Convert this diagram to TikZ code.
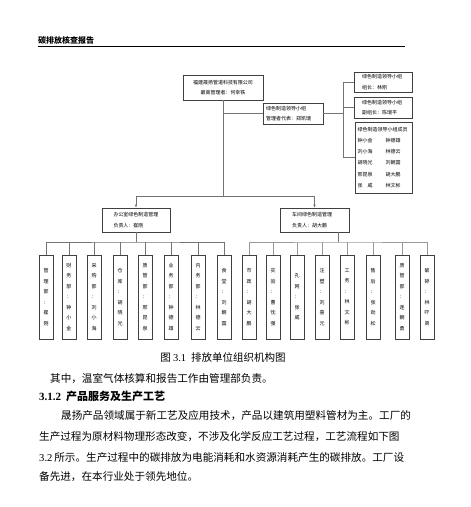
\documentclass[tikz,border=0pt]{standalone}
\usepackage{fontspec}
\setmainfont{Noto Sans CJK SC}
\newfontfamily\lat{Liberation Serif}
\XeTeXlinebreaklocale "zh"
\XeTeXlinebreakskip=0pt plus 1pt
\usetikzlibrary{arrows.meta}
\newcommand\namepair[2]{\makebox[28pt][l]{#1}#2}
\tikzset{
  hbox/.style={draw=black!75, line width=0.7pt, inner sep=2pt, font=\fontsize{5}{10.5}\selectfont},
  vbox/.style={draw=black!75, line width=0.7pt, minimum width=14pt, minimum height=84pt,
    inner sep=0pt, align=center, font=\fontsize{5}{10.5}\selectfont},
  link/.style={draw=black!55, line width=0.5pt},
  bodytext/.style={anchor=west, inner sep=0pt, font=\fontsize{10.6}{12}\selectfont},
}

\begin{document}
\begin{tikzpicture}[x=1pt, y=-1pt, >={Latex[length=3pt,width=2.5pt]}]
  \useasboundingbox (0,0) rectangle (471,507);

  % page header
  \node[anchor=west, inner sep=0pt, font=\fontsize{8}{8}\selectfont\bfseries] (hdr) at (38,40) {碳排放核查报告};
  \draw[line width=0.9pt] (38,46.5) -- (405,46.5);

  % top of the chart
  \node[hbox, minimum width=80pt, minimum height=25pt, align=center] (corp) at (223,87.5)
    {福建晟扬管道科技有限公司\\最高管理者：何幸铁};
  \node[hbox, minimum width=60pt, minimum height=21pt, align=left, text width=54pt] (lead) at (293,113.5)
    {绿色制造领导小组\\管理者代表：郑凯瑞};
  \node[hbox, minimum width=58pt, minimum height=20pt, align=left, text width=42pt] (zz) at (383,82)
    {绿色制造领导小组\\组长：林刚};
  \node[hbox, minimum width=58pt, minimum height=21pt, align=left, text width=42pt] (fz) at (383,107.5)
    {绿色制造领导小组\\副组长：陈瑞平};
  \node[hbox, minimum width=57pt, minimum height=71pt, align=left, text width=52pt,
    font=\fontsize{5}{11.2}\selectfont] (cy) at (383.5,157.5)
    {绿色制造领导小组成员\\\namepair{钟小金}{钟德雄}\\\namepair{刘小海}{林德云}\\
     \namepair{胡晓光}{刘朝国}\\\namepair{邢昆泉}{胡大鹏}\\\namepair{张\hspace{5pt}威}{林文彬}};

  \node[hbox, minimum width=68pt, minimum height=24pt, align=left, text width=45pt] (off) at (136,220)
    {办公室绿色制造管理\\负责人：崔刚};
  \node[hbox, minimum width=69pt, minimum height=24pt, align=left, text width=45pt] (cj) at (314.5,220)
    {车间绿色制造管理\\负责人：胡大鹏};

  \coordinate (split) at (223,196);
  \coordinate (br) at (343,113.5);
  \coordinate (lbus) at (136,242);
  \coordinate (rbus) at (338,242);

  \draw[link] (corp.south) -- (split);
  \draw[link, ->] (split) -| (off.north);
  \draw[link, ->] (split) -| (cj.north);
  \draw[link] (corp.south |- lead.west) -- (lead.west);
  \draw[link] (lead.east) -- (br);
  \draw[link] (zz.west) -| (br);
  \draw[link] (br) |- (fz.west);
  \draw[link] (br) |- (cy.west);

  % office departments
  \node[vbox] (m1) at (46,297) {管\\理\\部\\：\\崔\\刚};
  \node[vbox] (m2) at (69,297) {财\\务\\部\\：\\钟\\小\\金};
  \node[vbox] (m3) at (94,297) {采\\购\\部\\：\\刘\\小\\海};
  \node[vbox] (m4) at (120,297) {仓\\库\\：\\胡\\晓\\光};
  \node[vbox] (m5) at (145,297) {质\\管\\部\\：\\邢\\昆\\泉};
  \node[vbox] (m6) at (171,297) {业\\务\\部\\：\\钟\\德\\雄};
  \node[vbox] (m7) at (198,297) {内\\务\\部\\：\\林\\德\\云};
  \node[vbox] (m8) at (224,297) {食\\堂\\：\\刘\\朝\\国};

  % workshop departments
  \node[vbox] (r1) at (249,297) {市\\政\\：\\胡\\大\\鹏};
  \node[vbox] (r2) at (273,297) {实\\验\\：\\曹\\忱\\强};
  \node[vbox] (r3) at (297,297) {孔\\网\\：\\张\\威};
  \node[vbox] (r4) at (322,297) {注\\塑\\：\\刘\\喜\\元};
  \node[vbox] (r5) at (347,297) {工\\务\\：\\林\\文\\彬};
  \node[vbox] (r6) at (373,297) {售\\后\\：\\张\\劲\\松};
  \node[vbox] (r7) at (402,297) {质\\管\\部\\：\\连\\朝\\勇};
  \node[vbox] (r8) at (427,297) {破\\碎\\：\\林\\吓\\弟};

  \draw[link] (off.south) -- (lbus);
  \draw[link] (m1.north) |- (lbus) -| (m8.north);
  \foreach \n in {2,...,7}
    \draw[link] (m\n.north) -- (m\n.north |- lbus);
  \draw[link] (rbus |- cj.south) -- (rbus);
  \draw[link, draw=black!40] (r1.north) |- (rbus) -| (r8.north);
  \foreach \n in {2,...,7}
    \draw[link, draw=black!40] (r\n.north) -- (r\n.north |- rbus);

  % caption and running text
  \node[inner sep=0pt, font=\fontsize{10.5}{12}\selectfont] (cap) at (223,357)
    {图 {\lat 3.1}\hspace{5pt}排放单位组织机构图};
  \node[bodytext] (t0) at (50,379) {其中，温室气体核算和报告工作由管理部负责。};
  \node[bodytext, font=\fontsize{11}{12}\selectfont\bfseries] (sec) at (39,396)
    {{\lat\bfseries 3.1.2}\hspace{5pt}产品服务及生产工艺};
  \node[bodytext] (p1) at (61,416) {\makebox[343pt][s]{晟扬产品领域属于新工艺及应用技术，产品以建筑用塑料管材为主。工厂的}};
  \node[bodytext] (p2) at (39,437) {\makebox[365pt][s]{生产过程为原材料物理形态改变，不涉及化学反应工艺过程，工艺流程如下图}};
  \node[bodytext] (p3) at (39,457) {\makebox[365pt][s]{{\lat 3.2} 所示。生产过程中的碳排放为电能消耗和水资源消耗产生的碳排放。工厂设}};
  \node[bodytext] (p4) at (39,477) {备先进，在本行业处于领先地位。};
\end{tikzpicture}
\end{document}
